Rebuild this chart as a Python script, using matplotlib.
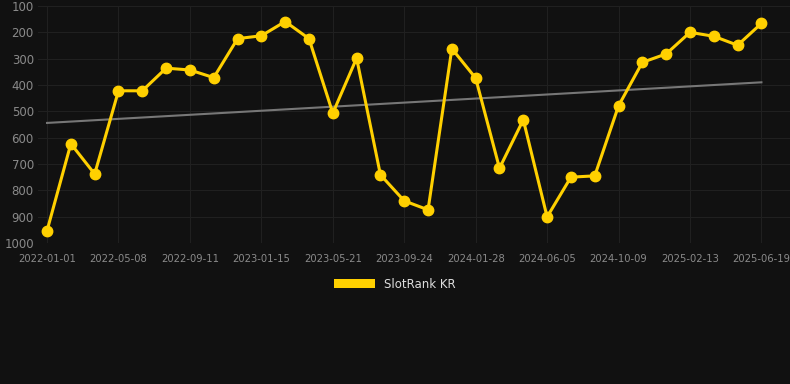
import numpy as np
import matplotlib
matplotlib.use("Agg")
import matplotlib.pyplot as plt
from matplotlib.patches import Patch

# rank values (lower = better)
ranks = [953, 623, 738, 422, 422, 336, 343, 372, 224, 213,
         159, 224, 507, 298, 741, 840, 874, 262, 374, 716,
         532, 901, 750, 745, 479, 314, 282, 200, 215, 249, 166]

tick_labels = ["2022-01-01", "2022-05-08", "2022-09-11", "2023-01-15",
               "2023-05-21", "2023-09-24", "2024-01-28", "2024-06-05",
               "2024-10-09", "2025-02-13", "2025-06-19"]
tick_step = 3

bg = "#111111"
gold = "#FFD000"

fig = plt.figure(figsize=(7.9, 3.84), dpi=100, facecolor=bg)
ax = fig.add_axes([38 / 790, 141 / 384, 752 / 790, 237 / 384])
ax.set_facecolor(bg)

x = np.arange(len(ranks))
ax.plot(x, ranks, color=gold, lw=2.2, marker="o", ms=7.5, zorder=3)

# linear trend
k, b = np.polyfit(x, ranks, 1)
ax.plot(x, k * x + b, color="#777777", lw=1.5, zorder=2)

ax.set_xlim(-0.38, 31.2)
ax.set_ylim(1000, 100)
ax.set_yticks(np.arange(100, 1001, 100))
ax.set_xticks(x[::tick_step])
ax.set_xticklabels(tick_labels)

ax.grid(True, color="#202020", lw=0.8)
ax.set_axisbelow(True)
for s in ax.spines.values():
    s.set_visible(False)
ax.tick_params(axis="both", length=0, colors="#8a8a8a")
ax.tick_params(axis="x", labelsize=7.2, pad=8)
ax.tick_params(axis="y", labelsize=8.5, pad=3)

leg = fig.legend(handles=[Patch(facecolor=gold, label="SlotRank KR")],
                 loc="center", bbox_to_anchor=(0.5, 1 - 284 / 384),
                 frameon=False, fontsize=8.5, labelcolor="#dddddd",
                 handlelength=3.4, handleheight=0.9)

fig.savefig("out.png", dpi=100, facecolor=bg)
